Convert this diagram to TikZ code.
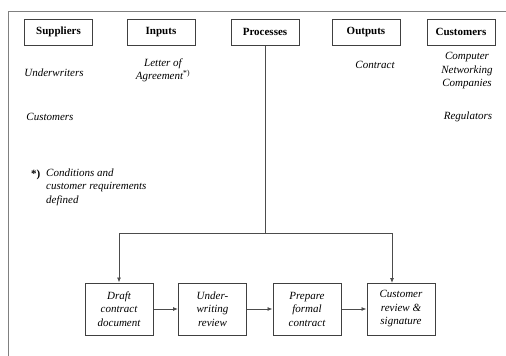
\documentclass[tikz,border=0pt]{standalone}
\usepackage{fontspec}
\setmainfont{Liberation Serif}
\usetikzlibrary{arrows.meta}
\begin{document}
\begin{tikzpicture}[x=1pt,y=-1pt,
  hdr/.style={draw=black!75, line width=1pt, minimum width=68pt, minimum height=26pt, inner sep=0pt, font=\fontsize{11}{13}\selectfont\bfseries},
  lbl/.style={align=center, inner sep=0pt, font=\fontsize{11}{13.5}\selectfont\itshape},
  proc/.style={draw=black!75, line width=1pt, minimum width=68pt, minimum height=52pt, inner sep=0pt, align=center, font=\fontsize{11}{13.5}\selectfont\itshape},
  conn/.style={draw=black!70, line width=0.8pt},
  arr/.style={conn, -{Latex[length=5pt,width=4pt]}}]
\useasboundingbox (0,0) rectangle (506,356);
\draw[black!50, line width=0.9pt] (8,356) -- (8,11) -- (506,11);
% headers
\node[hdr] (sup) at (58.5,32) {Suppliers};
\node[hdr] (inp) at (161,32) {Inputs};
\node[hdr] (pro) at (265,32) {Processes};
\node[hdr] (out) at (366,32) {Outputs};
\node[hdr] (cus) at (461,32) {Customers};
% labels
\node[lbl] (uw) at (54,73) {Underwriters};
\node[lbl] (cu) at (50,117) {Customers};
\node[lbl] (loa) at (163,70.5) {Letter of\\Agreement\textsuperscript{\upshape *)}};
\node[lbl] (con) at (375,65) {Contract};
\node[lbl] (cnc) at (467,71) {Computer\\Networking\\Companies};
\node[lbl] (reg) at (468,117) {Regulators};
% footnote
\node[anchor=west, inner sep=0pt, font=\fontsize{11}{13.5}\selectfont\bfseries] (star) at (31,175) {*)};
\node[lbl, anchor=north west, align=left] (fn) at (46,168.5) {Conditions and\\customer requirements\\defined};
% process boxes
\node[proc] (d1) at (119,309) {Draft\\contract\\document};
\node[proc] (d2) at (212.5,309) {Under-\\writing\\review};
\node[proc] (d3) at (307,309) {Prepare\\formal\\contract};
\node[proc] (d4) at (401,309) {Customer\\review \&\\signature};
% connectors
\coordinate (split) at (265,233);
\coordinate (t4) at (392,283);
\draw[conn] (pro.south) -- (split);
\draw[arr] (split) -| (d1.north);
\draw[arr] (split) -| (t4);
\draw[arr] (d1) -- (d2);
\draw[arr] (d2) -- (d3);
\draw[arr] (d3) -- (d4);
\end{tikzpicture}
\end{document}
